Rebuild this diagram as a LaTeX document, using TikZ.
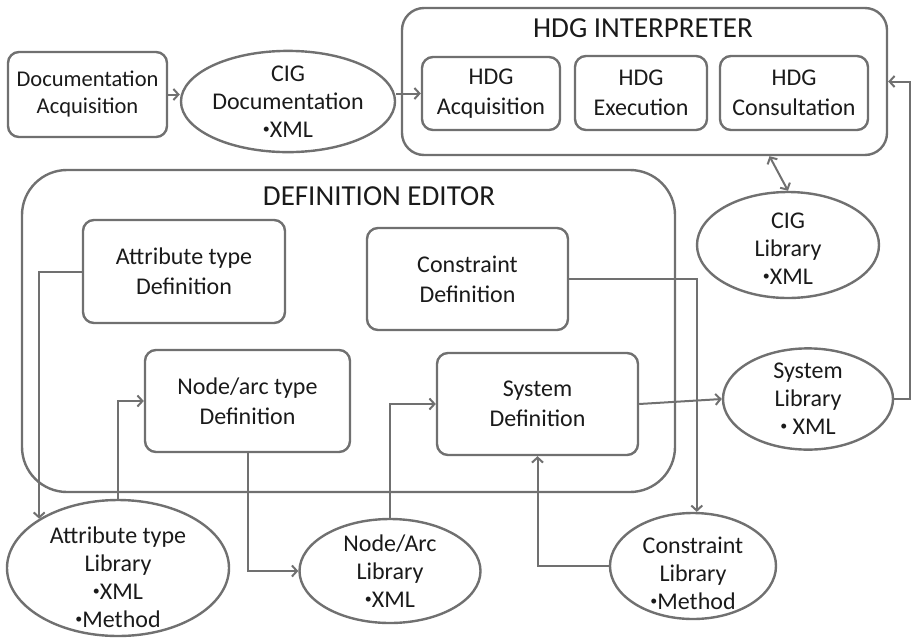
\documentclass[tikz,border=0pt]{standalone}
\usepackage{fontspec}
\setmainfont{Carlito}
\usetikzlibrary{shapes.geometric,arrows.meta,calc}
\definecolor{lc}{HTML}{707070}
\definecolor{tc}{HTML}{1A1A1A}
\newcommand\mybul{\raisebox{0.35ex}{\fontsize{14}{14}\selectfont•}}
\begin{document}
\begin{tikzpicture}[x=1pt,y=-1pt,
  every node/.style={text=tc},
  rbox/.style={draw=lc, line width=2.4pt, rounded corners=11pt, align=center, inner sep=0pt,
    font=\fontsize{24}{30}\selectfont},
  bigbox/.style={draw=lc, line width=2.4pt, inner sep=0pt},
  lib/.style={ellipse, draw=lc, line width=2.4pt, align=center, inner sep=0pt,
    font=\fontsize{24}{28}\selectfont},
  libtxt/.style={align=center, inner sep=0pt, text=tc, font=\fontsize{24}{28}\selectfont},
  ttl/.style={font=\fontsize{29}{32}\selectfont, inner sep=0pt},
  conn/.style={draw=lc, line width=2pt, -{Straight Barb[length=5pt,width=11pt]}},
  conn2/.style={draw=lc, line width=2pt, {Straight Barb[length=5pt,width=11pt]}-{Straight Barb[length=5pt,width=11pt]}}
]
\useasboundingbox (0,0) rectangle (911,638);
% big containers
\node[bigbox, rounded corners=22pt, minimum width=485pt, minimum height=147pt] (hi) at (644.5,81.5) {};
\node[ttl] (hit) at (643,28) {HDG INTERPRETER};
\node[bigbox, rounded corners=45pt, minimum width=653pt, minimum height=322pt] (de) at (348.5,331) {};
\node[ttl] (det) at (379,196) {DEFINITION EDITOR};
% top row
\node[rbox, font=\fontsize{22.5}{27}\selectfont, minimum width=159pt, minimum height=85pt] (da) at (87.5,94.5) {Documentation\\Acquisition};
\node[lib, minimum width=180pt, minimum height=93pt] (cd) at (288,101.5) {CIG\\Documentation\\\mybul XML};
\node[rbox, minimum width=138pt, minimum height=73pt] (ha) at (491,93.5) {HDG\\Acquisition};
\node[rbox, minimum width=132pt, minimum height=74pt] (he) at (641,93) {HDG\\Execution};
\node[rbox, minimum width=148pt, minimum height=74pt] (hc) at (794,93) {HDG\\Consultation};
% definition editor content
\node[rbox, minimum width=202pt, minimum height=103pt] (atd) at (184,271.5) {Attribute type\\Definition};
\node[rbox, minimum width=201pt, minimum height=102pt] (cdf) at (467.5,279) {Constraint\\Definition};
\node[rbox, minimum width=205pt, minimum height=102pt] (nad) at (247.5,401) {Node/arc type\\Definition};
\node[rbox, minimum width=201pt, minimum height=102pt] (sd) at (537.5,404) {System\\Definition};
% libraries
\node[lib, minimum width=182pt, minimum height=106pt,
  label={[libtxt, yshift=-4pt]center:{CIG\\Library\\\mybul XML}}] (cl) at (788,245) {};
\node[lib, minimum width=170pt, minimum height=98pt] (sl) at (808,399) {System\\Library\\\mybul\ XML};
\node[lib, minimum width=222pt, minimum height=136pt,
  label={[libtxt, yshift=-9pt]center:{Attribute type\\Library\\\mybul XML\\\mybul Method}}] (atl) at (118,568) {};
\node[lib, minimum width=181pt, minimum height=104pt] (nal) at (390,571) {Node/Arc\\Library\\\mybul XML};
\node[lib, minimum width=166pt, minimum height=106pt,
  label={[libtxt, yshift=-7pt]center:{Constraint\\Library\\\mybul Method}}] (clb) at (693,566) {};
% connectors
\draw[conn] (da.east) -- (da.east -| cd.west);
\draw[conn] (cd.east |- ha.west) -- (ha.west);
\draw[conn] (atd.west) -| (atl.148);
\draw[conn] (atl.north) |- (nad.west);
\draw[conn] (nad.south) |- (nal.west);
\draw[conn] (nal.north) |- (sd.west);
\draw[conn] (clb.west) -| (sd.south);
\draw[conn] (cdf.east) -| (clb.86);
\draw[conn] (sd.east) -- (sl.west);
\draw[conn] (sl.east) -- ++(16,0) |- (hi.east);
\draw[conn2] ($(hi.south)+(125,0)$) -- (cl.north);
\end{tikzpicture}
\end{document}
